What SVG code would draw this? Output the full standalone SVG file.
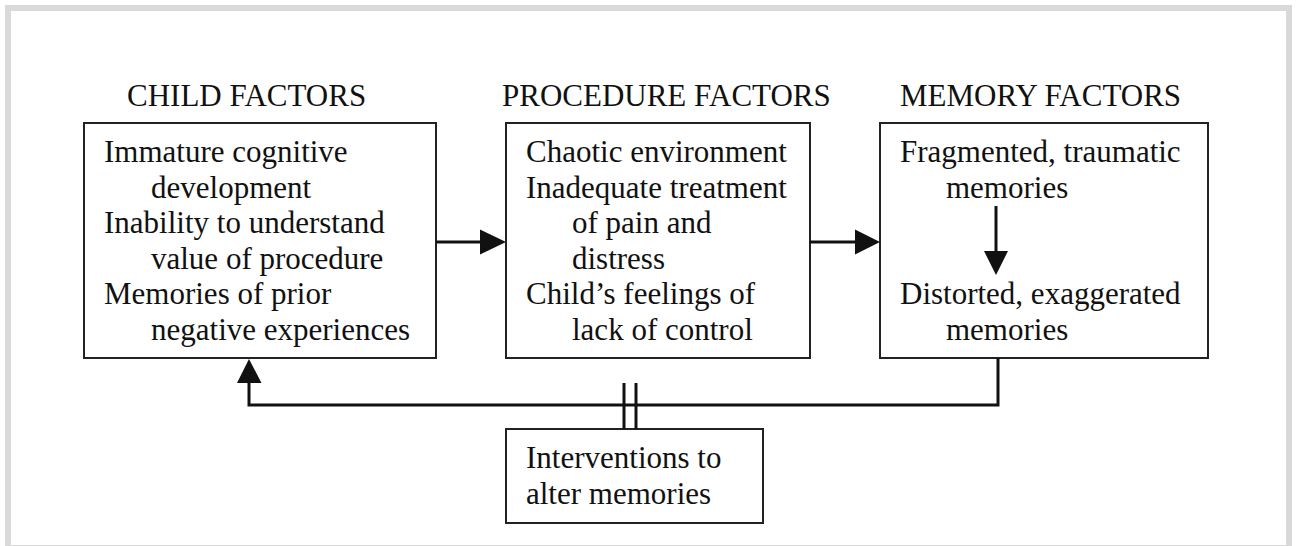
<svg xmlns="http://www.w3.org/2000/svg" width="1298" height="546" viewBox="0 0 1298 546">
  <defs>
    <style>
      .t { font-family: "Liberation Serif", "Times New Roman", serif; font-size: 31px; fill: #111; }
      .box { fill: #fff; stroke: #222; stroke-width: 2; }
      .ln { fill: none; stroke: #111; stroke-width: 3; }
      .ah { fill: #111; }
    </style>
  </defs>
  <rect x="0" y="0" width="1298" height="546" fill="#fff"/>
  <rect x="8" y="8" width="1281" height="540" fill="#fff" stroke="#d9d9d9" stroke-width="6"/>

  <g id="headers">
    <text class="t" x="127" y="106">CHILD FACTORS</text>
    <text class="t" x="502" y="106">PROCEDURE FACTORS</text>
    <text class="t" x="900" y="106">MEMORY FACTORS</text>
  </g>

  <g id="child-factors">
    <rect class="box" x="84" y="123" width="352" height="235"/>
    <text class="t" x="104" y="162">Immature cognitive</text>
    <text class="t" x="151" y="197.6">development</text>
    <text class="t" x="104" y="233.2">Inability to understand</text>
    <text class="t" x="151" y="268.8">value of procedure</text>
    <text class="t" x="104" y="304.4">Memories of prior</text>
    <text class="t" x="151" y="340">negative experiences</text>
  </g>

  <g id="procedure-factors">
    <rect class="box" x="506" y="123" width="304" height="235"/>
    <text class="t" x="526" y="162">Chaotic environment</text>
    <text class="t" x="526" y="197.6">Inadequate treatment</text>
    <text class="t" x="572" y="233.2">of pain and</text>
    <text class="t" x="572" y="268.8">distress</text>
    <text class="t" x="526" y="304.4">Child’s feelings of</text>
    <text class="t" x="572" y="340">lack of control</text>
  </g>

  <g id="memory-factors">
    <rect class="box" x="880" y="123" width="328" height="235"/>
    <text class="t" x="900" y="162">Fragmented, traumatic</text>
    <text class="t" x="946" y="197.6">memories</text>
    <text class="t" x="900" y="304.4">Distorted, exaggerated</text>
    <text class="t" x="946" y="340">memories</text>
  </g>

  <g id="interventions">
    <rect class="box" x="506" y="429" width="257" height="94"/>
    <text class="t" x="526" y="468">Interventions to</text>
    <text class="t" x="526" y="503.6">alter memories</text>
  </g>

  <g id="connectors">
    <line class="ln" x1="436" y1="242" x2="482" y2="242"/>
    <polygon class="ah" points="480,229.5 506,242 480,254.5"/>
    <line class="ln" x1="810" y1="242" x2="857" y2="242"/>
    <polygon class="ah" points="855,229.5 880,242 855,254.5"/>
    <line class="ln" x1="996" y1="206" x2="996" y2="253"/>
    <polygon class="ah" points="984,251 1008,251 996,275"/>
    <polyline class="ln" points="998,358 998,405 249,405 249,381"/>
    <polygon class="ah" points="237,383 249,359 261.5,383"/>
    <line class="ln" x1="624" y1="383" x2="624" y2="429"/>
    <line class="ln" x1="636" y1="383" x2="636" y2="429"/>
  </g>
</svg>
